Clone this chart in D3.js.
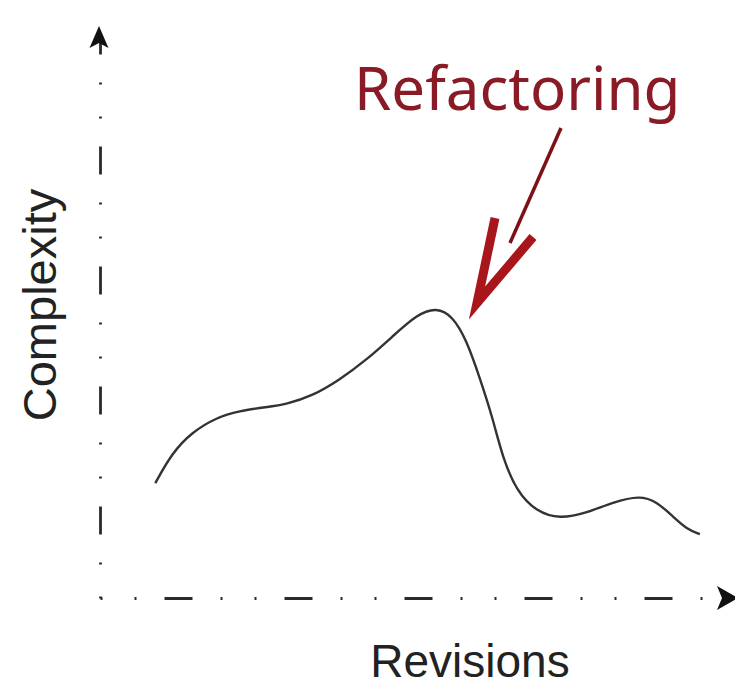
<!DOCTYPE html>
<html>
<head>
<meta charset="utf-8">
<script src="https://cdn.jsdelivr.net/npm/d3@7"></script>
<style>
  html, body { margin: 0; padding: 0; background: #fff; }
  svg { display: block; }
</style>
</head>
<body>
<svg width="735" height="688"></svg>
<script>
// revisions (x) and complexity (y), 0-100 units
const revisions = [8.9, 11.6, 14.8, 18.7, 22.4, 26.8, 30.0, 34.2, 38.5, 42.9, 47.1, 51.0, 54.2, 56.8,
    59.0, 61.1, 63.2, 64.8, 67.1, 70.3, 74.0, 78.4, 82.6, 86.9, 89.7, 92.3, 94.5, 96.6];
const complexity = [20.5, 25.9, 29.6, 32.2, 33.4, 34.1, 34.6, 36.1, 38.9, 42.5, 46.7, 50.6, 51.9, 50.3,
    46.1, 39.5, 32.3, 25.2, 19.0, 15.4, 14.1, 15.2, 17.1, 18.3, 17.2, 14.5, 12.3, 11.4];

const xLabel = "Revisions";
const yLabel = "Complexity";
const note = "Refactoring";

const svg = d3.select("svg");

const x = d3.scaleLinear().domain([0, 100]).range([100, 721]);
const y = d3.scaleLinear().domain([0, 100]).range([598, 38]);

// dash-dot-dot axis lines, no ticks
const dashes = "2,32,2,28,28,28";

svg.append("g")
    .attr("transform", `translate(0,${y(0)})`)
    .call(d3.axisBottom(x).tickValues([]).tickSizeOuter(0))
    .select(".domain")
    .attr("stroke", "#2a2a2a")
    .attr("stroke-width", 2.8)
    .attr("stroke-dasharray", dashes);

svg.append("g")
    .attr("transform", `translate(${x(0)},0)`)
    .call(d3.axisLeft(y).tickValues([]).tickSizeOuter(0))
    .select(".domain")
    .attr("stroke", "#2a2a2a")
    .attr("stroke-width", 2.8)
    .attr("stroke-dasharray", dashes);

// arrow heads at the axis ends
const ax = x(0) - 1, ay = y(100);
svg.append("path")
    .attr("d", `M${ax},${ay - 12} L${ax + 9.5},${ay + 10} L${ax},${ay + 5} L${ax - 9.5},${ay + 10} Z`)
    .attr("fill", "#111");

const bx = x(100) - 4, by = y(0);
svg.append("path")
    .attr("d", `M${bx + 21},${by} L${bx},${by - 12} L${bx + 5},${by} L${bx},${by + 12} Z`)
    .attr("fill", "#111");

// the curve
const pts = revisions.map((r, i) => [r, complexity[i]]);
const line = d3.line()
    .x(d => x(d[0]))
    .y(d => y(d[1]))
    .curve(d3.curveBasis);

svg.append("path")
    .datum(pts)
    .attr("d", line)
    .attr("fill", "none")
    .attr("stroke", "#333")
    .attr("stroke-width", 2.4);

// axis labels
svg.append("text")
    .attr("x", 470)
    .attr("y", 677)
    .attr("text-anchor", "middle")
    .style("font-family", "'Liberation Sans', Arial, sans-serif")
    .style("font-size", "46px")
    .style("fill", "#222")
    .text(xLabel);

svg.append("text")
    .attr("transform", "translate(56,305) rotate(-90)")
    .attr("text-anchor", "middle")
    .style("font-family", "'Liberation Sans', Arial, sans-serif")
    .style("font-size", "47px")
    .style("fill", "#222")
    .text(yLabel);

// annotation
svg.append("text")
    .attr("x", 354)
    .attr("y", 110)
    .style("font-family", "'Noto Sans', 'Open Sans', sans-serif")
    .style("font-size", "60px")
    .style("fill", "#8a1b26")
    .text(note);

const red = "#a8161c";
svg.append("line")
    .attr("x1", 561).attr("y1", 128)
    .attr("x2", 510).attr("y2", 243)
    .attr("stroke", "#7d1016")
    .attr("stroke-width", 3.5);

svg.append("path")
    .attr("d", "M495,218 L477,303 L533,237")
    .attr("fill", "none")
    .attr("stroke", red)
    .attr("stroke-width", 9)
    .attr("stroke-linejoin", "miter")
    .attr("stroke-miterlimit", 10);
</script>
</body>
</html>
